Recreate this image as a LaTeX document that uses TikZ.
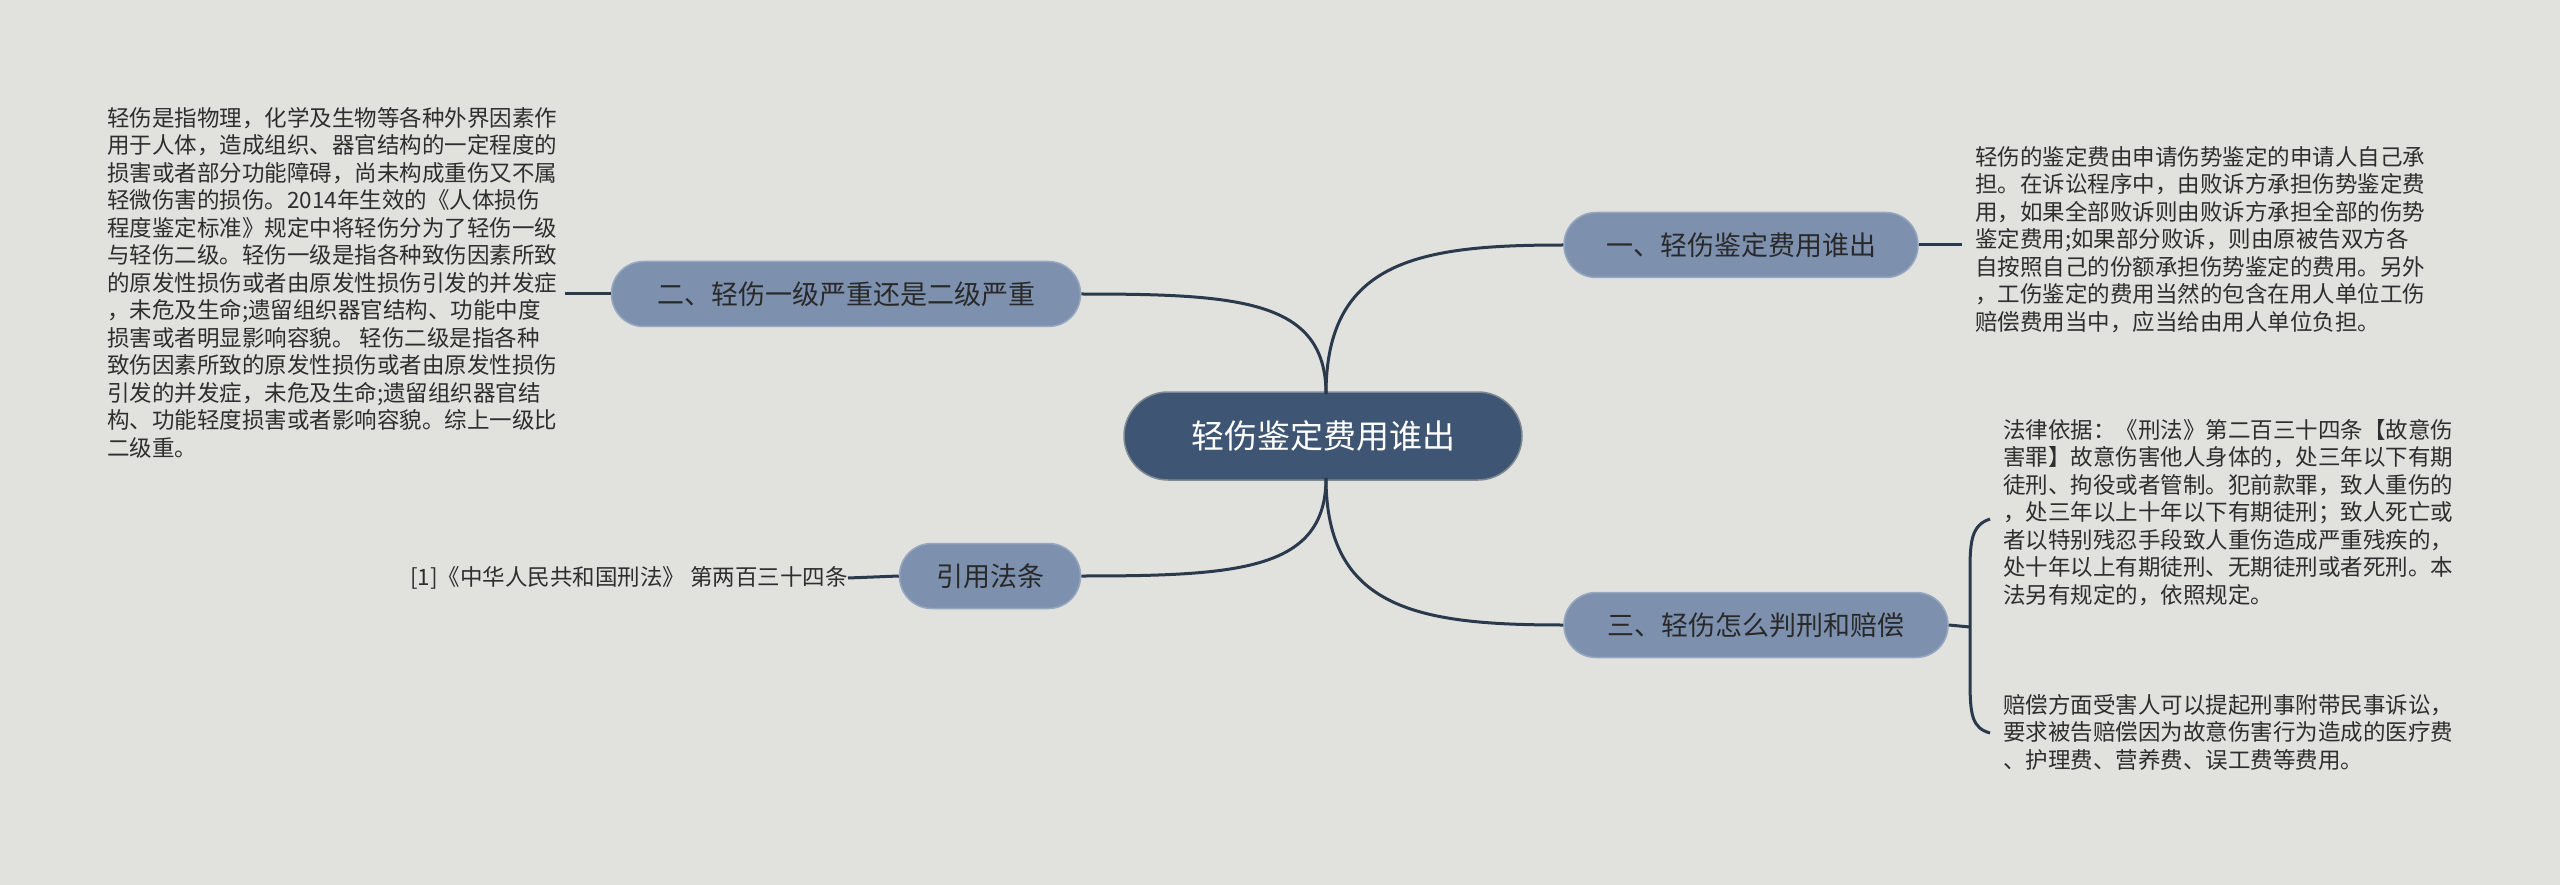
\documentclass[tikz,border=0pt]{standalone}
\usepackage{fontspec}
\setmainfont{Noto Sans CJK SC}
\definecolor{bg}{HTML}{E1E2DE}
\definecolor{ln}{HTML}{2A3A4C}
\definecolor{cfill}{HTML}{3E5574}
\definecolor{bfill}{HTML}{7D91AF}
\definecolor{tx}{HTML}{2E2E2E}
\begin{document}
\begin{tikzpicture}[x=1pt,y=-1pt,
  center/.style={rounded corners=44pt,fill=cfill,draw=ln!60,line width=1.5pt,text=white,minimum width=398pt,minimum height=88pt,font=\fontsize{33}{38}\selectfont},
  branch/.style={rounded corners=32pt,fill=bfill,draw=bfill!80!white,line width=1.5pt,text=tx!90!black,minimum height=65pt,font=\fontsize{27}{32}\selectfont},
  body/.style={text=tx,align=left,inner sep=0pt,font=\fontsize{22.5}{27.5}\selectfont},
  conn/.style={draw=ln,line width=3pt}]
\fill[bg] (0,0) rectangle (2560,885);
\useasboundingbox (0,0) rectangle (2560,885);
\node[center] (c) at (1323,436) {轻伤鉴定费用谁出};
\node[branch,minimum width=354pt] (b1) at (1741,245) {一、轻伤鉴定费用谁出};
\node[branch,minimum width=469pt] (b2) at (846,294) {二、轻伤一级严重还是二级严重};
\node[branch,minimum width=181pt] (b4) at (990,576) {引用法条};
\node[branch,minimum width=384pt] (b3) at (1756,625) {三、轻伤怎么判刑和赔偿};
\coordinate (ct) at (1326,394);
\coordinate (cb) at (1326,478);
\draw[conn] (ct) .. controls (1326,260) and (1420,245) .. (b1.west);
\draw[conn] (cb) .. controls (1326,610) and (1420,625) .. (b3.west);
\draw[conn] (ct) .. controls (1326,300) and (1240,294) .. (b2.east);
\draw[conn] (cb) .. controls (1326,570) and (1240,576) .. (b4.east);
\node[body,anchor=north west] (t2) at (107,107) {轻伤是指物理，化学及生物等各种外界因素作\\用于人体，造成组织、器官结构的一定程度的\\损害或者部分功能障碍，尚未构成重伤又不属\\轻微伤害的损伤。2014年生效的《人体损伤\\程度鉴定标准》规定中将轻伤分为了轻伤一级\\与轻伤二级。轻伤一级是指各种致伤因素所致\\的原发性损伤或者由原发性损伤引发的并发症\\，未危及生命;遗留组织器官结构、功能中度\\损害或者明显影响容貌。 轻伤二级是指各种\\致伤因素所致的原发性损伤或者由原发性损伤\\引发的并发症，未危及生命;遗留组织器官结\\构、功能轻度损害或者影响容貌。综上一级比\\二级重。};
\coordinate (e2) at (565,294);
\draw[conn] (b2.west) -- (e2);
\node[body,anchor=east] (t4) at (848,578) {[1]《中华人民共和国刑法》 第两百三十四条};
\draw[conn] (b4.west) -- (t4.east) ++(10,0);
\node[body,anchor=north west] (t1) at (1975,146) {轻伤的鉴定费由申请伤势鉴定的申请人自己承\\担。在诉讼程序中，由败诉方承担伤势鉴定费\\用，如果全部败诉则由败诉方承担全部的伤势\\鉴定费用;如果部分败诉，则由原被告双方各\\自按照自己的份额承担伤势鉴定的费用。另外\\，工伤鉴定的费用当然的包含在用人单位工伤\\赔偿费用当中，应当给由用人单位负担。};
\coordinate (e1) at (1962,245);
\draw[conn] (b1.east) -- (e1);
\node[body,anchor=north west] (t3a) at (2003,419) {法律依据：《刑法》第二百三十四条【故意伤\\害罪】故意伤害他人身体的，处三年以下有期\\徒刑、拘役或者管制。犯前款罪，致人重伤的\\，处三年以上十年以下有期徒刑；致人死亡或\\者以特别残忍手段致人重伤造成严重残疾的，\\处十年以上有期徒刑、无期徒刑或者死刑。本\\法另有规定的，依照规定。};
\node[body,anchor=north west] (t3b) at (2003,694) {赔偿方面受害人可以提起刑事附带民事诉讼，\\要求被告赔偿因为故意伤害行为造成的医疗费\\、护理费、营养费、误工费等费用。};
\coordinate (br) at (1970,627);
\draw[conn] (b3.east) -- (br);
\draw[conn] (1990,519) .. controls (1972,525) and (1970,540) .. (1970,570) -- (1970,680) .. controls (1970,715) and (1972,728) .. (1990,733);
\end{tikzpicture}
\end{document}
